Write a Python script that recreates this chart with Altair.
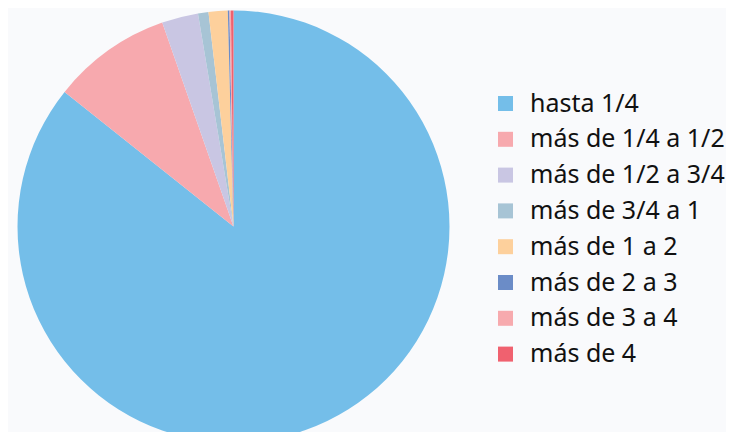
import altair as alt
import pandas as pd

categories = ["hasta 1/4", "más de 1/4 a 1/2", "más de 1/2 a 3/4", "más de 3/4 a 1",
              "más de 1 a 2", "más de 2 a 3", "más de 3 a 4", "más de 4"]
values = [85.7, 8.94, 2.72, 0.78, 1.43, 0.12, 0.11, 0.19]
colors = ["#74bee9", "#f7a9ae", "#c9c6e3", "#a7c4d5", "#fdd09c", "#6b8cc7", "#f7aaae", "#f0616f"]

df = pd.DataFrame({"cat": categories, "val": values, "order": list(range(len(categories)))})

chart = alt.Chart(df).mark_arc(outerRadius=216).encode(
    theta=alt.Theta("val:Q", stack=True),
    order=alt.Order("order:Q"),
    x=alt.value(225.5),
    y=alt.value(218.5),
    color=alt.Color(
        "cat:N",
        scale=alt.Scale(domain=categories, range=colors),
        sort=categories,
        legend=alt.Legend(
            title=None,
            orient="none",
            legendX=485,
            legendY=83,
            symbolType="square",
            symbolSize=225,
            symbolStrokeWidth=0,
            labelFontSize=25,
            labelFont="Noto Sans",
            labelColor="#111111",
            labelOffset=12,
            rowPadding=9.8,
            padding=0,
            labelLimit=400,
        ),
    ),
).properties(
    width=718,
    height=424,
    autosize=alt.AutoSizeParams(type="none"),
    padding=0,
    background="#f9fafc",
).configure_view(stroke=None)

chart.save("out.html", embed_options={"renderer": "svg", "actions": False})
